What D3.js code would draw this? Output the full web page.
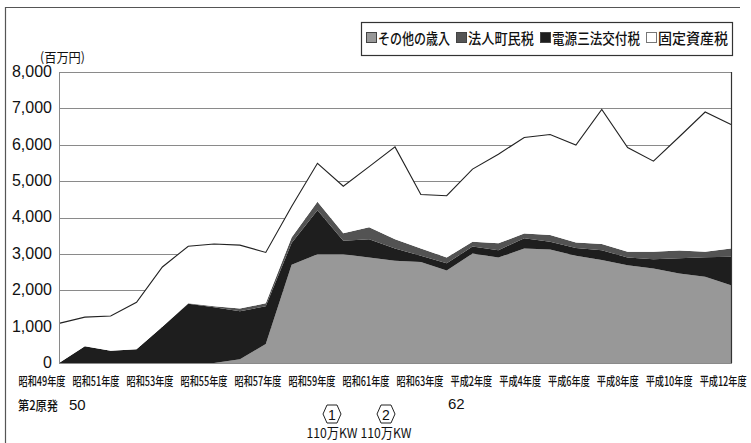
<!DOCTYPE html>
<html><head><meta charset="utf-8">
<script src="https://cdn.jsdelivr.net/npm/d3@7"></script>
<style>
body{margin:0;background:#fff;}
svg{display:block;}
</style></head>
<body><svg id="c" width="751" height="443"></svg>
<script>
// Fiscal years 昭和49年度 .. 平成12年度
const categories = ['昭和49年度','昭和50年度','昭和51年度','昭和52年度','昭和53年度','昭和54年度','昭和55年度','昭和56年度','昭和57年度','昭和58年度','昭和59年度','昭和60年度','昭和61年度','昭和62年度','昭和63年度','平成元年度','平成2年度','平成3年度','平成4年度','平成5年度','平成6年度','平成7年度','平成8年度','平成9年度','平成10年度','平成11年度','平成12年度'];
const tickLabels = ['昭和49年度','昭和51年度','昭和53年度','昭和55年度','昭和57年度','昭和59年度','昭和61年度','昭和63年度','平成2年度','平成4年度','平成6年度','平成8年度','平成10年度','平成12年度'];
const seriesNames = ['その他の歳入','法人町民税','電源三法交付税','固定資産税'];
// values in 百万円
const sonota   = [0,0,0,0,0,0,0,100,520,2700,2990,2990,2900,2810,2780,2540,3010,2900,3150,3120,2950,2830,2690,2600,2460,2370,2140];
const dengen   = [0,460,335,375,1000,1630,1530,1320,1040,600,1210,370,500,340,170,200,190,200,280,210,210,270,210,250,420,540,780];
const houjin   = [0,0,0,0,0,10,30,80,80,150,230,210,330,250,200,160,130,190,130,190,150,170,160,210,210,150,230];
const kotei    = [1090,800,955,1295,1640,1570,1710,1740,1400,850,1060,1290,1670,2540,1480,1700,2000,2450,2640,2760,2680,3700,2865,2490,3130,3840,3410];
const yTicks = [0,1000,2000,3000,4000,5000,6000,7000,8000];

const svg = d3.select('#c');
const W = 751, H = 443;
const CJK = '"Noto Sans CJK JP","Noto Sans CJK SC",sans-serif';
const LAT = '"Liberation Sans",Arial,sans-serif';

// outer frame (top and left)
svg.append('line').attr('x1',6).attr('x2',740).attr('y1',7.5).attr('y2',7.5).attr('stroke','#555').attr('stroke-width',1.2);
svg.append('line').attr('x1',5.5).attr('x2',5.5).attr('y1',7).attr('y2',H).attr('stroke','#555').attr('stroke-width',1.2);

const x = d3.scaleLinear().domain([0, categories.length-1]).range([59, 731]);
const y = d3.scaleLinear().domain([0, 8000]).range([363, 72]);

const table = categories.map((c,i)=>({cat:c, 'その他の歳入':sonota[i], '電源三法交付税':dengen[i], '法人町民税':houjin[i], '固定資産税':kotei[i]}));
const stackKeys = ['その他の歳入','電源三法交付税','法人町民税','固定資産税'];
const stacked = d3.stack().keys(stackKeys)(table);
const fills = {'その他の歳入':'#989898','電源三法交付税':'#1e1e1e','法人町民税':'#535353','固定資産税':'#ffffff'};

// gridlines
svg.append('g').selectAll('line').data(yTicks.filter(v=>v>0 && v<8000)).join('line')
  .attr('x1',59).attr('x2',731).attr('y1',d=>Math.round(y(d))+0.5).attr('y2',d=>Math.round(y(d))+0.5)
  .attr('stroke','#8a8a8a').attr('stroke-width',1);

const area = d3.area().x((d,i)=>x(i)).y0(d=>y(d[0])).y1(d=>y(d[1]));
svg.append('g').selectAll('path').data(stacked).join('path')
  .attr('d',area).attr('fill',d=>fills[d.key]);

// top outline of 固定資産税
const topLine = d3.line().x((d,i)=>x(i)).y(d=>y(d[1]));
svg.append('path').datum(stacked[3]).attr('d',topLine).attr('fill','none').attr('stroke','#222').attr('stroke-width',1.1);

// plot frame
svg.append('rect').attr('x',59.5).attr('y',72.5).attr('width',672).attr('height',Math.round(y(0))-72)
  .attr('fill','none').attr('stroke','#8a8a8a').attr('stroke-width',1);
svg.append('line').attr('x1',731.5).attr('x2',731.5).attr('y1',72).attr('y2',363).attr('stroke','#333').attr('stroke-width',1.2);

// y axis
const yAxis = d3.axisLeft(y).tickValues(yTicks).tickSize(0).tickPadding(7).tickFormat(d3.format(','));
const ga = svg.append('g').attr('transform','translate(59,0)').call(yAxis);
ga.select('.domain').remove();
ga.selectAll('text').attr('font-family',LAT).attr('font-size',16).attr('fill','#111').attr('dy','0.28em');

// unit
svg.append('text').attr('x',40).attr('y',62).attr('font-family',CJK).attr('font-size',13).attr('fill','#111')
  .attr('textLength',45).attr('lengthAdjust','spacingAndGlyphs').text('(百万円)');

// x labels flowing left to right
const xl = svg.append('g');
let cx = 18.5;
const ref = xl.append('text').attr('font-family',CJK).attr('font-size',12.5).attr('font-weight',500).text('昭和49年度');
const sx = 47 / ref.node().getComputedTextLength();
ref.remove();
tickLabels.forEach(t=>{
  const tt = xl.append('text').attr('font-family',CJK).attr('font-size',12.5).attr('font-weight',500).attr('fill','#111').text(t);
  const w = tt.node().getComputedTextLength()*sx;
  tt.attr('transform',`translate(${cx},385.5) scale(${sx},1)`);
  cx += w + 7;
});

// legend
svg.append('rect').attr('x',361.5).attr('y',22.5).attr('width',371).attr('height',33).attr('fill','#fff').attr('stroke','#333').attr('stroke-width',1.2);
const legendFill = {'その他の歳入':'#989898','法人町民税':'#555','電源三法交付税':'#1e1e1e','固定資産税':'#fff'};
const legendW = {'その他の歳入':72,'法人町民税':66,'電源三法交付税':88,'固定資産税':70};
let lx = 366;
seriesNames.forEach(n=>{
  svg.append('rect').attr('x',lx+0.5).attr('y',32.5).attr('width',10).attr('height',10)
    .attr('fill',legendFill[n]).attr('stroke', n==='固定資産税' ? '#777' : '#444').attr('stroke-width',1);
  svg.append('text').attr('x',lx+12).attr('y',43.5).attr('font-family',CJK).attr('font-size',14.5).attr('font-weight',500)
    .attr('fill','#111').attr('textLength',legendW[n]).attr('lengthAdjust','spacingAndGlyphs').text(n);
  lx += 12 + legendW[n] + 6;
});

// annotations below axis
svg.append('text').attr('x',18).attr('y',410).attr('font-family',CJK).attr('font-size',13).attr('font-weight',500).attr('fill','#111')
  .attr('textLength',40).attr('lengthAdjust','spacingAndGlyphs').text('第2原発');
svg.append('text').attr('x',69).attr('y',410).attr('font-family',LAT).attr('font-size',15).attr('fill','#111').text('50');
svg.append('text').attr('x',448).attr('y',409).attr('font-family',LAT).attr('font-size',15).attr('fill','#111').text('62');

const units = [{n:'1',cx:332},{n:'2',cx:386}];
units.forEach(u=>{
  const hx = [[-9,0],[-5,-9],[5,-9],[9,0],[5,9],[-5,9]].map(p=>[u.cx+p[0], 414+p[1]]);
  svg.append('polygon').attr('points',hx.map(p=>p.join(',')).join(' ')).attr('fill','none').attr('stroke','#222').attr('stroke-width',1);
  svg.append('text').attr('x',u.cx).attr('y',419.5).attr('text-anchor','middle').attr('font-family',LAT).attr('font-size',14).attr('fill','#111').text(u.n);
  svg.append('text').attr('x',u.cx).attr('y',438).attr('text-anchor','middle').attr('font-family',CJK).attr('font-size',13.5).attr('fill','#111')
    .attr('textLength',51).attr('lengthAdjust','spacingAndGlyphs').text('110万KW');
});
</script></body></html>
